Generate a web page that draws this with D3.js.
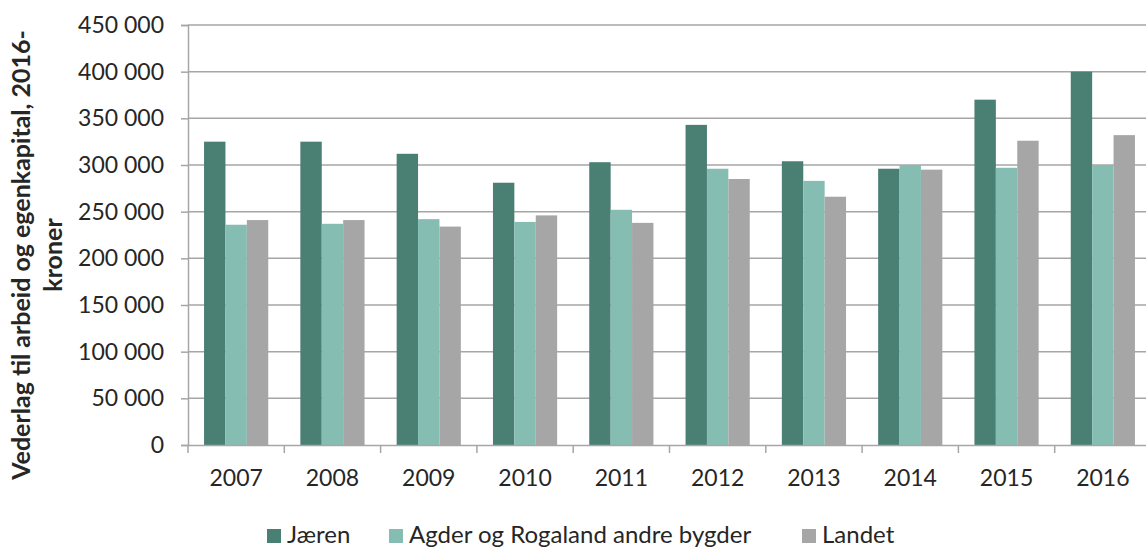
<!DOCTYPE html>
<meta charset="utf-8">
<style>
body { margin: 0; background: #fff; }
text { font-family: Lato, "Open Sans", sans-serif; fill: #262626; }
</style>
<svg id="chart" width="1146" height="548"></svg>
<script src="https://d3js.org/d3.v7.min.js"></script>
<script>
var years = ["2007", "2008", "2009", "2010", "2011", "2012", "2013", "2014", "2015", "2016"];
var seriesNames = ["Jæren", "Agder og Rogaland andre bygder", "Landet"];
var jaeren = [325000, 325000, 312000, 281000, 303000, 343000, 304000, 296000, 370000, 400000];
var agder = [236000, 237000, 242000, 239000, 252000, 296000, 283000, 300000, 297000, 300000];
var landet = [241000, 241000, 234000, 246000, 238000, 285000, 266000, 295000, 326000, 332000];
var yTicks = [0, 50000, 100000, 150000, 200000, 250000, 300000, 350000, 400000, 450000];
var colors = ["#4a7f74", "#86bdb3", "#a6a6a6"];

var svg = d3.select("#chart");
var plotLeft = 188, plotRight = 1151, plotTop = 25, plotBottom = 445;

var x = d3.scaleBand().domain(years).range([plotLeft, plotRight]).padding(0);
var xInner = d3.scaleBand().domain(seriesNames)
  .range([x.bandwidth() / 6, x.bandwidth() * 5 / 6]).padding(0);
var y = d3.scaleLinear().domain([0, 450000]).range([plotBottom, plotTop]);

var fmt = function(d) { return d3.format(",")(d).replace(/,/g, " "); };

// grid
svg.append("g").selectAll("line").data(yTicks.slice(1)).join("line")
  .attr("x1", plotLeft).attr("x2", plotRight)
  .attr("y1", d => y(d)).attr("y2", d => y(d))
  .attr("stroke", "#a6a6a6").attr("stroke-width", 1.5);

// bars
var rows = years.map((yr, i) => ({year: yr, vals: [jaeren[i], agder[i], landet[i]]}));
svg.append("g").selectAll("g").data(rows).join("g")
  .attr("transform", d => "translate(" + x(d.year) + ",0)")
  .selectAll("rect").data(d => d.vals.map((v, j) => ({name: seriesNames[j], v: v, j: j}))).join("rect")
  .attr("x", d => xInner(d.name))
  .attr("width", xInner.bandwidth())
  .attr("y", d => y(d.v))
  .attr("height", d => y(0) - y(d.v))
  .attr("fill", d => colors[d.j]);

// y axis
var yAxis = svg.append("g").attr("transform", "translate(" + plotLeft + ",0)")
  .call(d3.axisLeft(y).tickValues(yTicks).tickFormat(fmt).tickSize(7).tickPadding(17));
yAxis.select(".domain").attr("stroke", "#a6a6a6").attr("stroke-width", 1.5);
yAxis.selectAll(".tick line").attr("stroke", "#a6a6a6").attr("stroke-width", 1.5);
yAxis.selectAll("text").style("font-size", "23px").attr("fill", "#262626");

// x axis
var xAxis = svg.append("g").attr("transform", "translate(0," + plotBottom + ")")
  .call(d3.axisBottom(x).tickSize(0).tickPadding(25));
xAxis.select(".domain").attr("stroke", "#a6a6a6").attr("stroke-width", 1.5);
xAxis.selectAll("text").style("font-size", "23px").attr("fill", "#262626");
xAxis.selectAll("line.sep").data(years).join("line").attr("class", "sep")
  .attr("x1", d => x(d)).attr("x2", d => x(d))
  .attr("y1", 0).attr("y2", 8)
  .attr("stroke", "#a6a6a6").attr("stroke-width", 1.5);

// y title
var title = svg.append("text")
  .attr("transform", "translate(30,255) rotate(-90)")
  .attr("text-anchor", "middle")
  .style("font-size", "25px").style("font-weight", "bold");
title.append("tspan").attr("x", 0).attr("dy", 0).text("Vederlag til arbeid og egenkapital, 2016-");
title.append("tspan").attr("x", 0).attr("dy", 32).text("kroner");

// legend
var legendX = [267, 389, 802];
var lg = svg.append("g").selectAll("g").data(seriesNames).join("g")
  .attr("transform", (d, i) => "translate(" + legendX[i] + ",543)");
lg.append("rect").attr("x", 0).attr("y", -14).attr("width", 14).attr("height", 14)
  .attr("fill", (d, i) => colors[i]);
lg.append("text").attr("x", 20).style("font-size", "24px").text(d => d);
</script>
